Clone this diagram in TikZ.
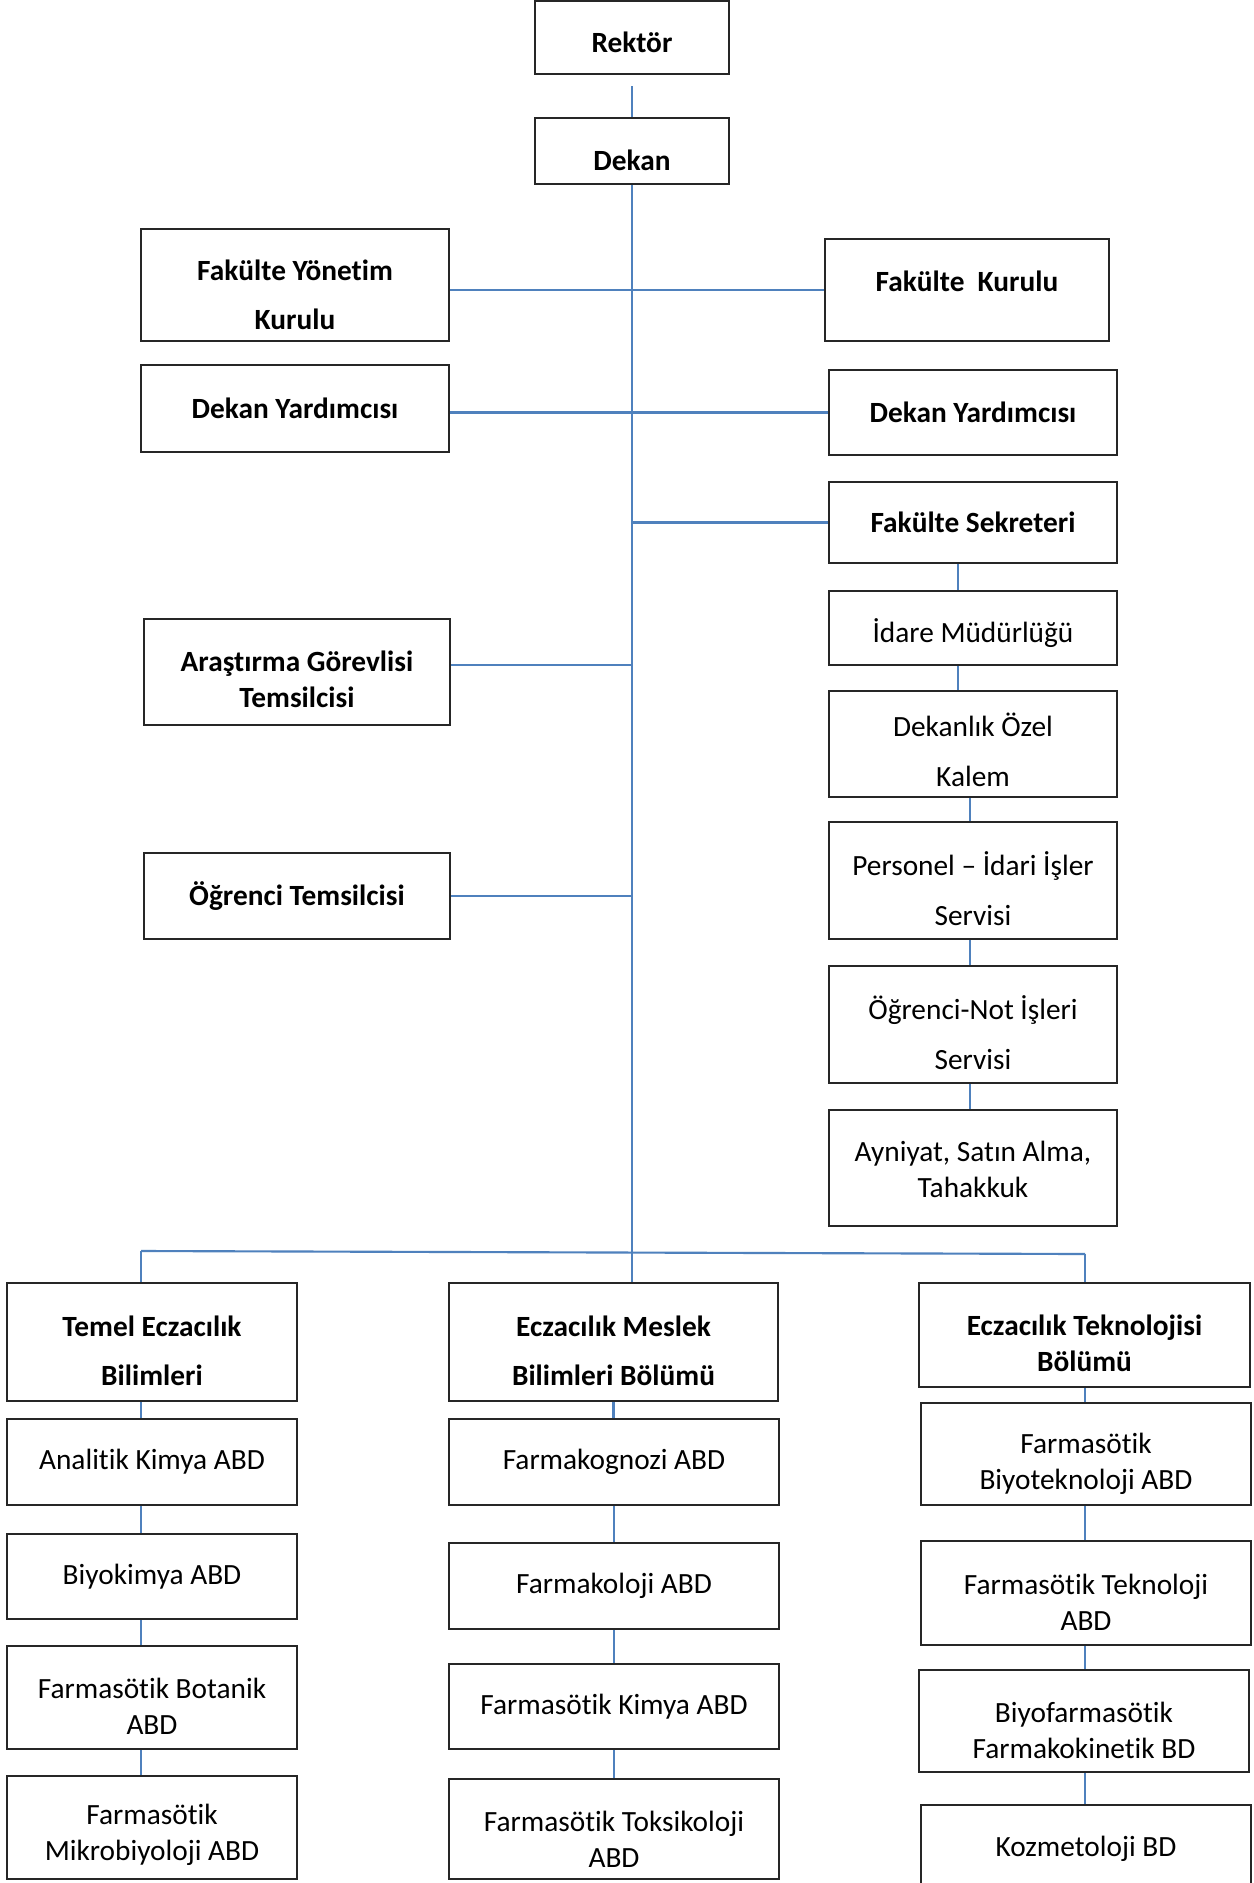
\documentclass[tikz,border=0pt]{standalone}
\usepackage{fontspec}
\setmainfont{Carlito}[Ligatures=NoCommon]
\definecolor{conncol}{RGB}{79,129,189}
\definecolor{boxcol}{RGB}{38,38,38}
\tikzset{
  box/.style={draw=boxcol, line width=0.75pt, rectangle, inner sep=0pt},
  conn/.style={draw=conncol, line width=0.8pt},
  lbl/.style={align=center, inner sep=0pt, text=black, font=\fontsize{11}{13.4}\selectfont},
  bs/.style={font=\bfseries\fontsize{11}{13.4}\selectfont},
  bd/.style={font=\bfseries\fontsize{11}{18.5}\selectfont},
  rd/.style={font=\fontsize{11}{18.8}\selectfont},
}
\newcommand\bx[7][]{%
  \node[box, minimum width={(#5-#3)*0.375pt}, minimum height={(#6-#4)*0.375pt},
    label={[lbl,#1]center:{#7}}] (#2) at ({(#3+#5)/2},{(#4+#6)/2}) {};}
\begin{document}
\begin{tikzpicture}[x=0.375pt,y=-0.375pt]
\fill[white] (0,0) rectangle (1254,1883);
\useasboundingbox (0,0) rectangle (1254,1883);
% top
\bx[bs,yshift=-1.9pt]{rek}{535}{1}{729}{74}{Rektör}
\bx[bs,yshift=-3.4pt]{dek}{535}{118}{729}{184}{Dekan}
% left / right upper
\bx[bd,yshift=-3.6pt]{fyk}{141}{229}{449}{341}{Fakülte Yönetim\\Kurulu}
\bx[bs,yshift=3.4pt]{fk}{825}{239}{1109}{341}{Fakülte\ \ Kurulu}
\bx[bs]{dy1}{141}{365}{449}{452}{Dekan Yardımcısı}
\bx[bs]{dy2}{829}{370}{1117}{455}{Dekan Yardımcısı}
\bx[bs]{fs}{829}{482}{1117}{563}{Fakülte Sekreteri}
\bx[yshift=-1.9pt]{idare}{829}{591}{1117}{665}{İdare Müdürlüğü}
\bx[rd,yshift=-2.1pt]{dok}{829}{691}{1117}{797}{Dekanlık Özel\\Kalem}
\bx[rd,yshift=-3pt]{pers}{829}{822}{1117}{939}{Personel – İdari İşler\\Servisi}
\bx[rd,yshift=-3pt]{ogr}{829}{966}{1117}{1083}{Öğrenci-Not İşleri\\Servisi}
\bx[yshift=-0.6pt]{ayn}{829}{1110}{1117}{1226}{Ayniyat, Satın Alma,\\Tahakkuk}
\bx[bs,yshift=-2.7pt]{arg}{144}{619}{450}{725}{Araştırma Görevlisi\\Temsilcisi}
\bx[bs]{ot}{144}{853}{450}{939}{Öğrenci Temsilcisi}
% departments
\bx[bd,yshift=-3.2pt]{temel}{7}{1283}{297}{1401}{Temel Eczacılık\\Bilimleri}
\bx[bd,yshift=-3.2pt]{meslek}{449}{1283}{778}{1401}{Eczacılık Meslek\\Bilimleri Bölümü}
\bx[bs,yshift=-3.2pt]{tekno}{919}{1283}{1250}{1387}{Eczacılık Teknolojisi\\Bölümü}
% left column
\bx{ak}{7}{1419}{297}{1505}{Analitik Kimya ABD}
\bx{biyok}{7}{1534}{297}{1619}{Biyokimya ABD}
\bx[yshift=-3.2pt]{fbot}{7}{1646}{297}{1749}{Farmasötik Botanik\\ABD}
\bx[yshift=-2.8pt]{fmik}{7}{1776}{297}{1879}{Farmasötik\\Mikrobiyoloji ABD}
% middle column
\bx{fkog}{449}{1419}{779}{1505}{Farmakognozi ABD}
\bx{fkol}{449}{1543}{779}{1629}{Farmakoloji ABD}
\bx{fkim}{449}{1664}{779}{1749}{Farmasötik Kimya ABD}
\bx[yshift=-3.75pt]{ftok}{449}{1779}{779}{1879}{Farmasötik Toksikoloji\\ABD}
% right column
\bx[yshift=-3.75pt]{fbiyo}{921}{1403}{1251}{1505}{Farmasötik\\Biyoteknoloji ABD}
\bx[yshift=-3.4pt]{ftek}{921}{1541}{1251}{1645}{Farmasötik Teknoloji\\ABD}
\bx[yshift=-3.6pt]{bfk}{919}{1670}{1249}{1772}{Biyofarmasötik\\Farmakokinetik BD}
\bx{koz}{921}{1805}{1251}{1893}{Kozmetoloji BD}
% connectors
\draw[conn] ([yshift=-4.2pt]rek.south) -- (dek.north);
\draw[conn] (dek.south) -- (dek.south |- meslek.north);
\draw[conn] (fk.west -| fyk.east) -- (fk.west);
\draw[conn] (dy2.west -| dy1.east) -- (dy2.west);
\draw[conn] (fs.west -| dek.south) -- (fs.west);
\draw[conn] ([yshift=2.7pt]arg.east) -- ([yshift=2.7pt]arg.east -| dek.south);
\draw[conn] (ot.east) -- (ot.east -| dek.south);
% secretary chain
\draw[conn] ([xshift=-5.6pt]fs.south) -- ([xshift=-5.6pt]idare.north);
\draw[conn] ([xshift=-5.6pt]idare.south) -- ([xshift=-5.6pt]dok.north);
\draw[conn] ([xshift=-1.1pt]dok.south) -- ([xshift=-1.1pt]pers.north);
\draw[conn] ([xshift=-1.1pt]pers.south) -- ([xshift=-1.1pt]ogr.north);
\draw[conn] ([xshift=-1.1pt]ogr.south) -- ([xshift=-1.1pt]ayn.north);
% bus
\coordinate (busL) at (141,1251);
\coordinate (busR) at (1085,1254);
\draw[conn] (busL) -- (busR);
\draw[conn] (busL) -- (busL |- temel.north);
\draw[conn] (busR) -- (busR |- tekno.north);
% left column
\draw[conn] ([xshift=-4.1pt]temel.south) -- ([xshift=-4.1pt]ak.north);
\draw[conn] ([xshift=-4.1pt]ak.south) -- ([xshift=-4.1pt]biyok.north);
\draw[conn] ([xshift=-4.1pt]biyok.south) -- ([xshift=-4.1pt]fbot.north);
\draw[conn] ([xshift=-4.1pt]fbot.south) -- ([xshift=-4.1pt]fmik.north);
% middle column
\draw[conn] (meslek.south) -- (meslek.south |- fkog.north);
\draw[conn] (fkog.south) -- (fkog.south |- fkol.north);
\draw[conn] (fkol.south) -- (fkol.south |- fkim.north);
\draw[conn] (fkim.south) -- (fkim.south |- ftok.north);
% right column
\draw[conn] (busR |- tekno.south) -- (busR |- fbiyo.north);
\draw[conn] (busR |- fbiyo.south) -- (busR |- ftek.north);
\draw[conn] (busR |- ftek.south) -- (busR |- bfk.north);
\draw[conn] (busR |- bfk.south) -- (busR |- koz.north);
\end{tikzpicture}
\end{document}
